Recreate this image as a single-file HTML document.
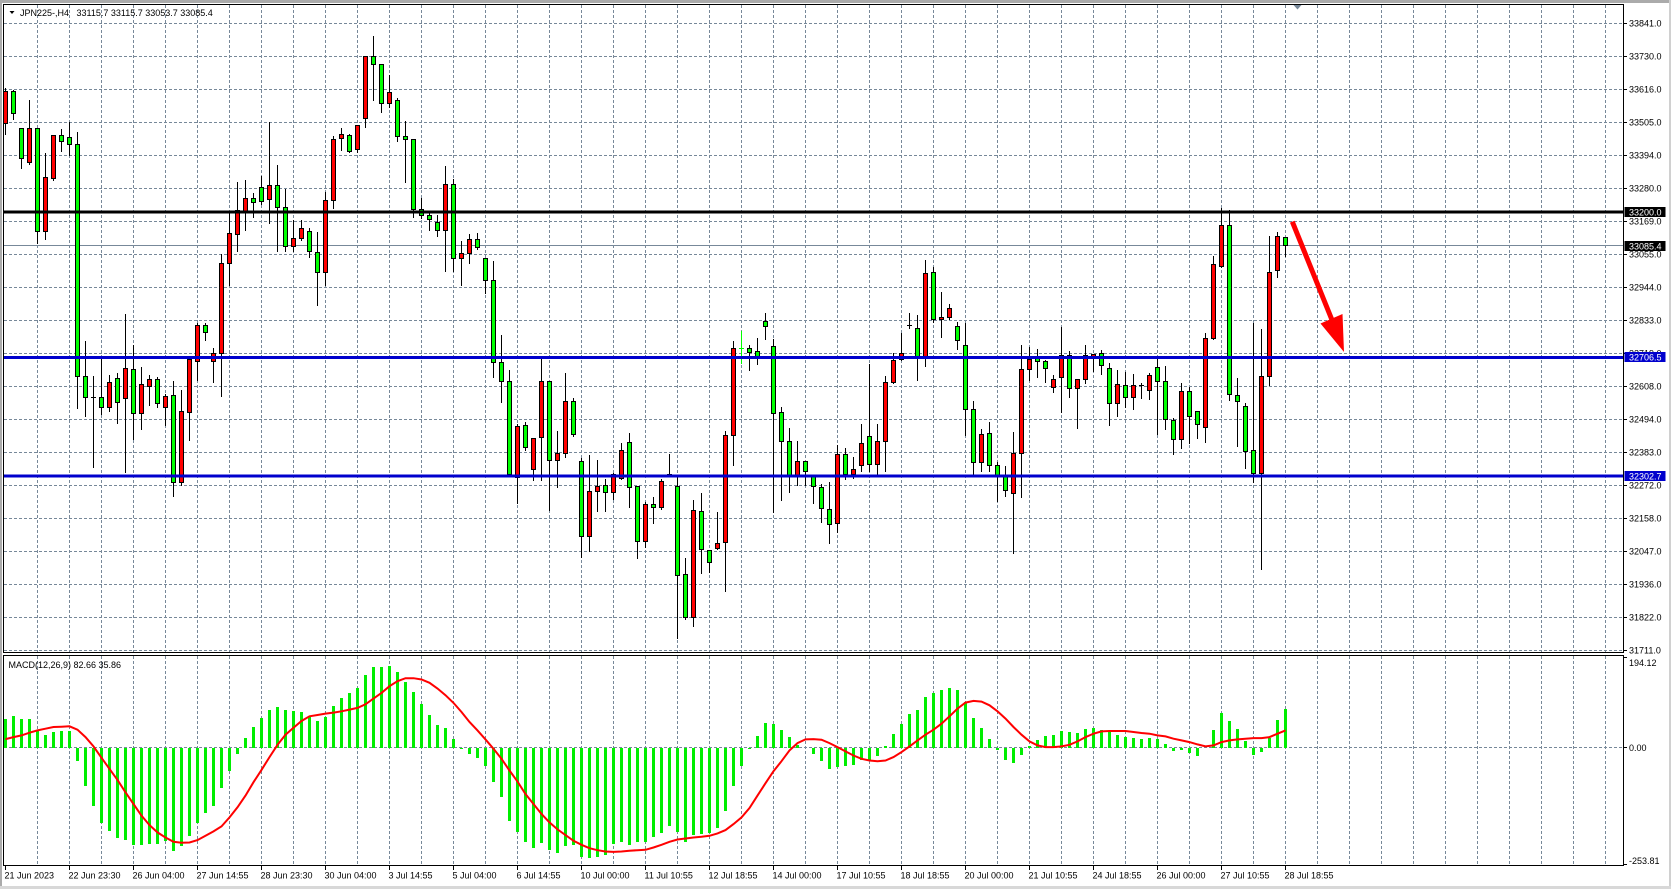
<!DOCTYPE html>
<html><head><meta charset="utf-8">
<style>
html,body{margin:0;padding:0;background:#fff;}
body{width:1671px;height:889px;overflow:hidden;}
svg{display:block;font-family:"Liberation Sans",Arial,sans-serif;font-size:9px;}
</style></head><body>
<svg id="c" width="1671" height="889" viewBox="0 0 1671 889" xmlns="http://www.w3.org/2000/svg">
<defs><clipPath id="mc"><rect x="4" y="5" width="1619" height="647"/></clipPath>
<clipPath id="dc"><rect x="4" y="656" width="1619" height="209"/></clipPath></defs>
<rect x="0" y="0" width="1671" height="889" fill="#fff"/>
<rect x="0" y="0" width="1671" height="3" fill="#ababab"/>
<rect x="0" y="0" width="2" height="889" fill="#ababab"/>
<rect x="1669" y="0" width="2" height="889" fill="#d0d0d0"/>
<rect x="0" y="886" width="1671" height="3" fill="#d8d8d8"/>
<g id="grid" stroke="#778899" stroke-width="1" stroke-dasharray="3,2" fill="none"></g>
<!-- current price line -->
<line x1="4" y1="245.5" x2="1623" y2="245.5" stroke="#778899" stroke-width="1"/>
<g id="cand" clip-path="url(#mc)"></g>
<!-- horizontal lines -->
<rect x="4" y="210.5" width="1619" height="3" fill="#000"/>
<rect x="4" y="356" width="1619" height="3" fill="#0000cd"/>
<rect x="4" y="474.5" width="1619" height="3" fill="#0000cd"/>
<!-- arrow -->
<line x1="1292.3" y1="221.7" x2="1332" y2="320" stroke="#ff0000" stroke-width="5"/>
<polygon points="1320.5,323.5 1342.5,314 1344,352" fill="#ff0000"/>
<!-- MACD -->
<g id="hist" clip-path="url(#dc)"></g>
<polyline id="sig" fill="none" stroke="#ff0000" stroke-width="2" clip-path="url(#dc)"/>
<!-- frames -->
<rect x="3.5" y="4.5" width="1620" height="648" fill="none" stroke="#000" stroke-width="1"/>
<rect x="3.5" y="655.5" width="1620" height="210" fill="none" stroke="#000" stroke-width="1"/>
<polygon points="1293.5,5 1301.5,5 1297.5,9.5" fill="#778899"/>
<!-- title -->
<polygon points="9.5,11 14.5,11 12,14" fill="#000"/>
<text x="20" y="16" fill="#000">JPN225-,H4</text>
<text x="76.5" y="16" fill="#000">33115.7 33115.7 33053.7 33085.4</text>
<text x="8.5" y="668" fill="#000">MACD(12,26,9) 82.66 35.86</text>
<!-- right axis ticks -->
<g id="ticks" stroke="#000" stroke-width="1"></g>
<!-- price labels -->
<g fill="#000">
<text x="1629" y="26.5">33841.0</text>
<text x="1629" y="59.5">33730.0</text>
<text x="1629" y="92.5">33616.0</text>
<text x="1629" y="125.5">33505.0</text>
<text x="1629" y="158.5">33394.0</text>
<text x="1629" y="191.5">33280.0</text>
<text x="1629" y="224.5">33169.0</text>
<text x="1629" y="257.5">33055.0</text>
<text x="1629" y="290.5">32944.0</text>
<text x="1629" y="323.5">32833.0</text>
<text x="1629" y="356.5">32719.0</text>
<text x="1629" y="389.5">32608.0</text>
<text x="1629" y="422.5">32494.0</text>
<text x="1629" y="455.5">32383.0</text>
<text x="1629" y="488.5">32272.0</text>
<text x="1629" y="521.5">32158.0</text>
<text x="1629" y="554.5">32047.0</text>
<text x="1629" y="587.5">31936.0</text>
<text x="1629" y="620.5">31822.0</text>
<text x="1629" y="653.5">31711.0</text>
<text x="1629" y="666">194.12</text>
<text x="1629" y="751">0.00</text>
<text x="1629" y="864">-253.81</text>
</g>
<!-- boxes -->
<rect x="1624.5" y="207" width="41" height="10" fill="#000"/>
<text x="1629" y="215.3" fill="#fff">33200.0</text>
<rect x="1624.5" y="241" width="41" height="10" fill="#000"/>
<text x="1629" y="249.3" fill="#fff">33085.4</text>
<rect x="1624.5" y="352" width="41" height="10" fill="#0000cd"/>
<text x="1629" y="360.3" fill="#fff">32706.5</text>
<rect x="1624.5" y="471" width="41" height="10" fill="#0000cd"/>
<text x="1629" y="479.3" fill="#fff">32302.7</text>
<!-- time labels -->
<g fill="#000">
<text x="4.5" y="878.5">21 Jun 2023</text>
<text x="68.5" y="878.5">22 Jun 23:30</text>
<text x="132.5" y="878.5">26 Jun 04:00</text>
<text x="196.5" y="878.5">27 Jun 14:55</text>
<text x="260.5" y="878.5">28 Jun 23:30</text>
<text x="324.5" y="878.5">30 Jun 04:00</text>
<text x="388.5" y="878.5">3 Jul 14:55</text>
<text x="452.5" y="878.5">5 Jul 04:00</text>
<text x="516.5" y="878.5">6 Jul 14:55</text>
<text x="580.5" y="878.5">10 Jul 00:00</text>
<text x="644.5" y="878.5">11 Jul 10:55</text>
<text x="708.5" y="878.5">12 Jul 18:55</text>
<text x="772.5" y="878.5">14 Jul 00:00</text>
<text x="836.5" y="878.5">17 Jul 10:55</text>
<text x="900.5" y="878.5">18 Jul 18:55</text>
<text x="964.5" y="878.5">20 Jul 00:00</text>
<text x="1028.5" y="878.5">21 Jul 10:55</text>
<text x="1092.5" y="878.5">24 Jul 18:55</text>
<text x="1156.5" y="878.5">26 Jul 00:00</text>
<text x="1220.5" y="878.5">27 Jul 10:55</text>
<text x="1284.5" y="878.5">28 Jul 18:55</text>
</g>
</svg>
<script>
(function(){
var NS="http://www.w3.org/2000/svg";
function el(tag,attrs,parent){var e=document.createElementNS(NS,tag);for(var k in attrs)e.setAttribute(k,attrs[k]);parent.appendChild(e);return e;}
var grid=document.getElementById('grid');
for(var k=0;k<20;k++){var y=Math.round(23.3+33*k)+0.5;el('line',{x1:4,y1:y,x2:1623,y2:y},grid);}
for(var k=1;k<=50;k++){var x=5.5+32*k;el('line',{x1:x,y1:5,x2:x,y2:652},grid);el('line',{x1:x,y1:656,x2:x,y2:865},grid);}
el('line',{x1:4,y1:747.5,x2:1623,y2:747.5},grid);
var ticks=document.getElementById('ticks');
for(var k=0;k<20;k++){var y=Math.round(23.3+33*k)+0.5;el('line',{x1:1624,y1:y,x2:1627,y2:y},ticks);}
[657.5,747.5,864.5].forEach(function(y){el('line',{x1:1624,y1:y,x2:1627,y2:y},ticks);});
for(var k=0;k<=20;k++){var x=5.5+64*k;el('line',{x1:x,y1:866,x2:x,y2:870},ticks);}

var D="R 88.3 91 123.3 134.3|G 89.7 91 113.3 119.3|G 128.3 128.3 158.3 167.7|R 100 128.3 162.3 164.3|G 128.3 128.3 231 242.7|R 153.3 177.3 231 239.3|R 135 135.3 178.3 180|G 129 135.3 141.3 150.7|G 122.3 137.3 144.3 155|G 131.7 144.3 376 408.3|"+
"G 341 376.3 397.3 415.7|D 376 396.7 397.3 466.7|G 358.3 397.3 406.7 414.3|R 375 382 406.7 410.7|G 372.7 378 401.7 422.7|R 314 368.3 398.3 471.7|G 345 369.3 412.7 439|R 367.3 384.3 412.7 429|R 375 379 385.7 405|G 377.3 379.3 403.3 407.3|"+
"R 394.3 396 406.7 425|G 381 395.3 481.7 495.7|R 390 411 481.7 485|R 358.3 359.3 411.7 440|R 323.3 325 360.7 380|G 323.3 325 331.7 340|R 348.3 353.3 360.7 381.7|R 254.3 263.3 353.3 395.7|R 212.7 233.3 263.3 285|R 181.7 210 234.3 251|"+
"R 180 198.3 211 230|G 193.3 198.3 201.7 216.7|G 176 187.3 200.7 204.3|R 122.3 185 199.3 223.3|G 165 185 207.3 250.7|G 189.3 207.3 245.7 250.7|R 220 238.3 245.7 250.7|R 220 228.3 238.3 240|G 228.3 231.3 250.7 256.7|G 232 252.3 272.3 305|"+
"R 192.3 200.3 272.3 285|R 136 139.3 200.3 207.7|R 128.3 134.3 138.3 150|G 134.3 135.3 150.7 151.7|R 125 125.3 149.3 151.7|R 56 56.3 118.3 126.7|G 36 56.3 64 100|G 64 64.3 103.3 111.7|R 75 92.3 103.3 107.3|G 98.3 100.3 135.7 140.7|"+
"G 121 135.7 139.3 181.7|G 139.3 139.3 209.3 217.3|G 197.7 209.3 215.3 218.3|G 211.7 215.3 219.3 230|G 215 222.3 230.3 235.7|R 166 184.3 230.3 270.7|G 179 184.3 258.3 270.7|R 240.7 253.3 257.7 285|R 234 239.3 253.3 262.7|G 233.3 239.3 247.3 249|"+
"G 257.7 258.3 280.3 293.3|G 261 280.3 361.7 376.7|G 335 361.7 381.3 401.7|G 370 381.3 474.3 474.3|R 424.3 425.7 476.7 503.3|G 422 425.3 447.3 450|R 438.3 438.3 469.3 480|R 358.3 381 437.3 480|G 381 381 460.3 510|R 431 453.3 460.3 486.7|"+
"R 373 401 453.3 456.7|G 398.3 401 434.3 436|G 458.3 461.3 536.3 557.3|R 455 491.3 536.3 551|R 460 486.3 491.3 510.7|G 479.3 485.3 492.3 510.7|R 473.3 474.3 492.3 499|R 443.3 450.3 478.3 479|G 433.3 442.3 487.3 506.7|G 486 486.3 541.3 557.7|"+
"R 501.7 504.3 541.3 546.7|G 497.3 504.3 507.3 522.7|R 479 481 507.3 509|D 454 473.3 474 476|G 476.7 486.3 575.3 637.7|G 557.7 574.3 617 619.3|R 500 510.3 617 625.7|G 492.7 511.3 549.3 573.3|G 550 550.3 562.3 571.7|R 512.3 543.3 548.3 549.3|"+
"R 431 435.3 542.3 590.7|R 340.7 348.3 435.3 465|L 331 348.3 348.3 363.3|G 345 348.3 351.7 370|G 337.7 351 356 364|G 312.7 321 325.7 339|G 339 346.3 412.7 512|G 407.3 412.3 441.3 500|G 427.7 441.3 476 491.7|R 441 461.3 476 485|"+
"G 460.7 461.3 470.7 485|G 475 476.3 486.3 502.7|G 484.3 487.3 508.3 522.3|G 482.3 509.3 524.3 542.7|R 445 454.3 523.3 531.7|G 448.3 454.3 473.7 479.3|R 457.3 469.3 473.7 478.3|R 424 443.3 465.3 470.7|G 364 436.3 464.3 470.7|R 424 441.3 464.3 475|"+
"R 376 382.3 440.7 470.7|R 353.3 360.3 382.3 382.7|R 333 353.3 359.3 360|D 313 324.7 325.3 327.7|G 315 328.3 357.3 379.7|R 260 273.3 357.3 365.7|G 267.3 272.3 319.3 322.3|R 292 317 319 336.7|R 304.3 308 317.3 319|G 322.3 326.3 339.7 348.7|"+
"G 322.7 345 409.3 435|G 401 409.3 462.3 475|R 429 434.3 462.3 470.7|G 422.3 433.3 465.3 470.7|G 462.3 465.3 476 500.7|G 466 476.3 490.3 495.7|R 432.3 453.3 493.3 552.7|R 345 369.3 453.3 496.7|R 346.7 359.3 369.3 380|G 349 358.3 361 376.7|"+
"G 360 361 367.7 381.7|R 375 379 387.3 391.7|R 327 355.3 377.3 412.3|G 351 355.3 388.3 396.7|R 379 379 388.3 427.7|R 345 355.3 379.3 382.7|R 354 354.3 355.7 371|G 350 353.3 365.3 373.7|G 363.3 368 403.3 425|R 370 384 403.3 415.7|"+
"G 372.3 385.3 397.3 407.3|R 374 385.3 397.3 409.3|D 383.3 384 385 398.3|R 373.3 375.3 390.3 398.7|G 358.3 367.3 381.3 433.7|G 366 381.3 419.3 429|G 418 420.3 439.3 454.3|R 383 391.3 439.3 447.7|G 386.7 391.3 416.3 443.3|G 411.3 411.3 424.3 437.7|"+
"R 333 338.3 427.3 441.7|R 256 264.3 337.7 339|R 208.3 225.3 265.7 266.7|G 210 225.3 394.3 400.3|G 378 395.3 401.3 445.7|G 403.3 406 451.3 468.3|G 323.3 450.3 473.3 481.7|R 329 376.3 473.3 569.3|R 236 272.3 376.3 384.7|R 232 236.3 270.3 276.7|"+
"G 237.3 237.3 245.3 255.7";
var cg=document.getElementById('cand');
D.split('|').forEach(function(ln,i){
  var p=ln.trim().split(/\s+/);var t=p[0];
  var wt=+p[1],bt=+p[2],bb=+p[3],wb=+p[4];var c=5.5+8*i;
  var col=(t==='L')?'#00ff00':'#000';
  el('line',{x1:c,y1:Math.round(wt),x2:c,y2:Math.round(wb)+1,stroke:col,'stroke-width':1},cg);
  if(t==='R'||t==='G'){
    var y1=Math.round(bt)+0.5,y2=Math.round(bb)+0.5;if(y2-y1<1)y2=y1+1;
    el('rect',{x:c-2,y:y1,width:4,height:y2-y1,fill:(t==='R'?'#ff0000':'#00ff00'),stroke:'#000','stroke-width':1},cg);
  } else {
    var y=Math.round((bt+bb)/2)+0.5;
    el('line',{x1:c-2.5,y1:y,x2:c+2.5,y2:y,stroke:col,'stroke-width':1},cg);
  }
});

var H=[237,228,237,237,272,285,276,272,272,362,437,497,546,570,593,597,614,614,609,609,602,629,617,587,546,516,495,443,392,341,294,261,233,210,201,210,213,216,230,242,231,198,174,159,144,104,80,80,77,96,124,156,192,225,255,264,297,325,340,353,377,425,470,540,573,603,620,608,626,635,617,613,648,650,647,643,609,603,614,605,605,590,578,557,575,605,582,580,577,563,512,435,375,325,288,249,252,268,291,315,322,341,362,386,378,377,373,360,360,347,316,282,252,222,210,171,159,150,144,150,185,234,262,297,330,360,368,345,318,300,288,285,272,276,277,267,262,270,275,283,290,294,297,294,297,312,333,330,338,347,324,270,218,243,267,302,343,335,292,240,207];
var S=[296,290,285,277,270,265,260,259,258,268,290,318,352,385,418,455,490,525,553,575,590,603,606,605,598,585,572,557,530,500,465,425,388,350,313,283,262,242,228,224,220,217,213,208,203,192,175,158,138,123,114,114,118,128,145,165,188,215,245,270,297,325,355,390,423,460,490,520,545,566,583,600,612,622,628,632,633,632,630,628,627,620,612,603,596,593,590,588,585,578,568,550,530,502,465,428,392,362,330,308,297,296,298,308,320,333,345,355,360,362,360,350,335,318,300,283,268,250,228,205,187,182,184,195,213,235,260,283,303,315,320,320,318,313,303,290,280,273,272,272,272,275,278,280,285,288,295,300,305,312,318,315,305,300,297,295,293,293,290,280,270];
var hg=document.getElementById('hist');
var Z=747.77;
H.forEach(function(v,i){
  var y=640+v*0.33468;
  var top=Math.round(Math.min(y,Z)),bot=Math.round(Math.max(y,Z));
  if(bot-top<1)return;
  el('rect',{x:4+8*i,y:top,width:3,height:bot-top,fill:'#00ee00'},hg);
});
var pts=S.map(function(v,i){return (5.5+8*i)+','+(640+v*0.33468).toFixed(1);}).join(' ');
document.getElementById('sig').setAttribute('points',pts);
})();
</script>
</body></html>
